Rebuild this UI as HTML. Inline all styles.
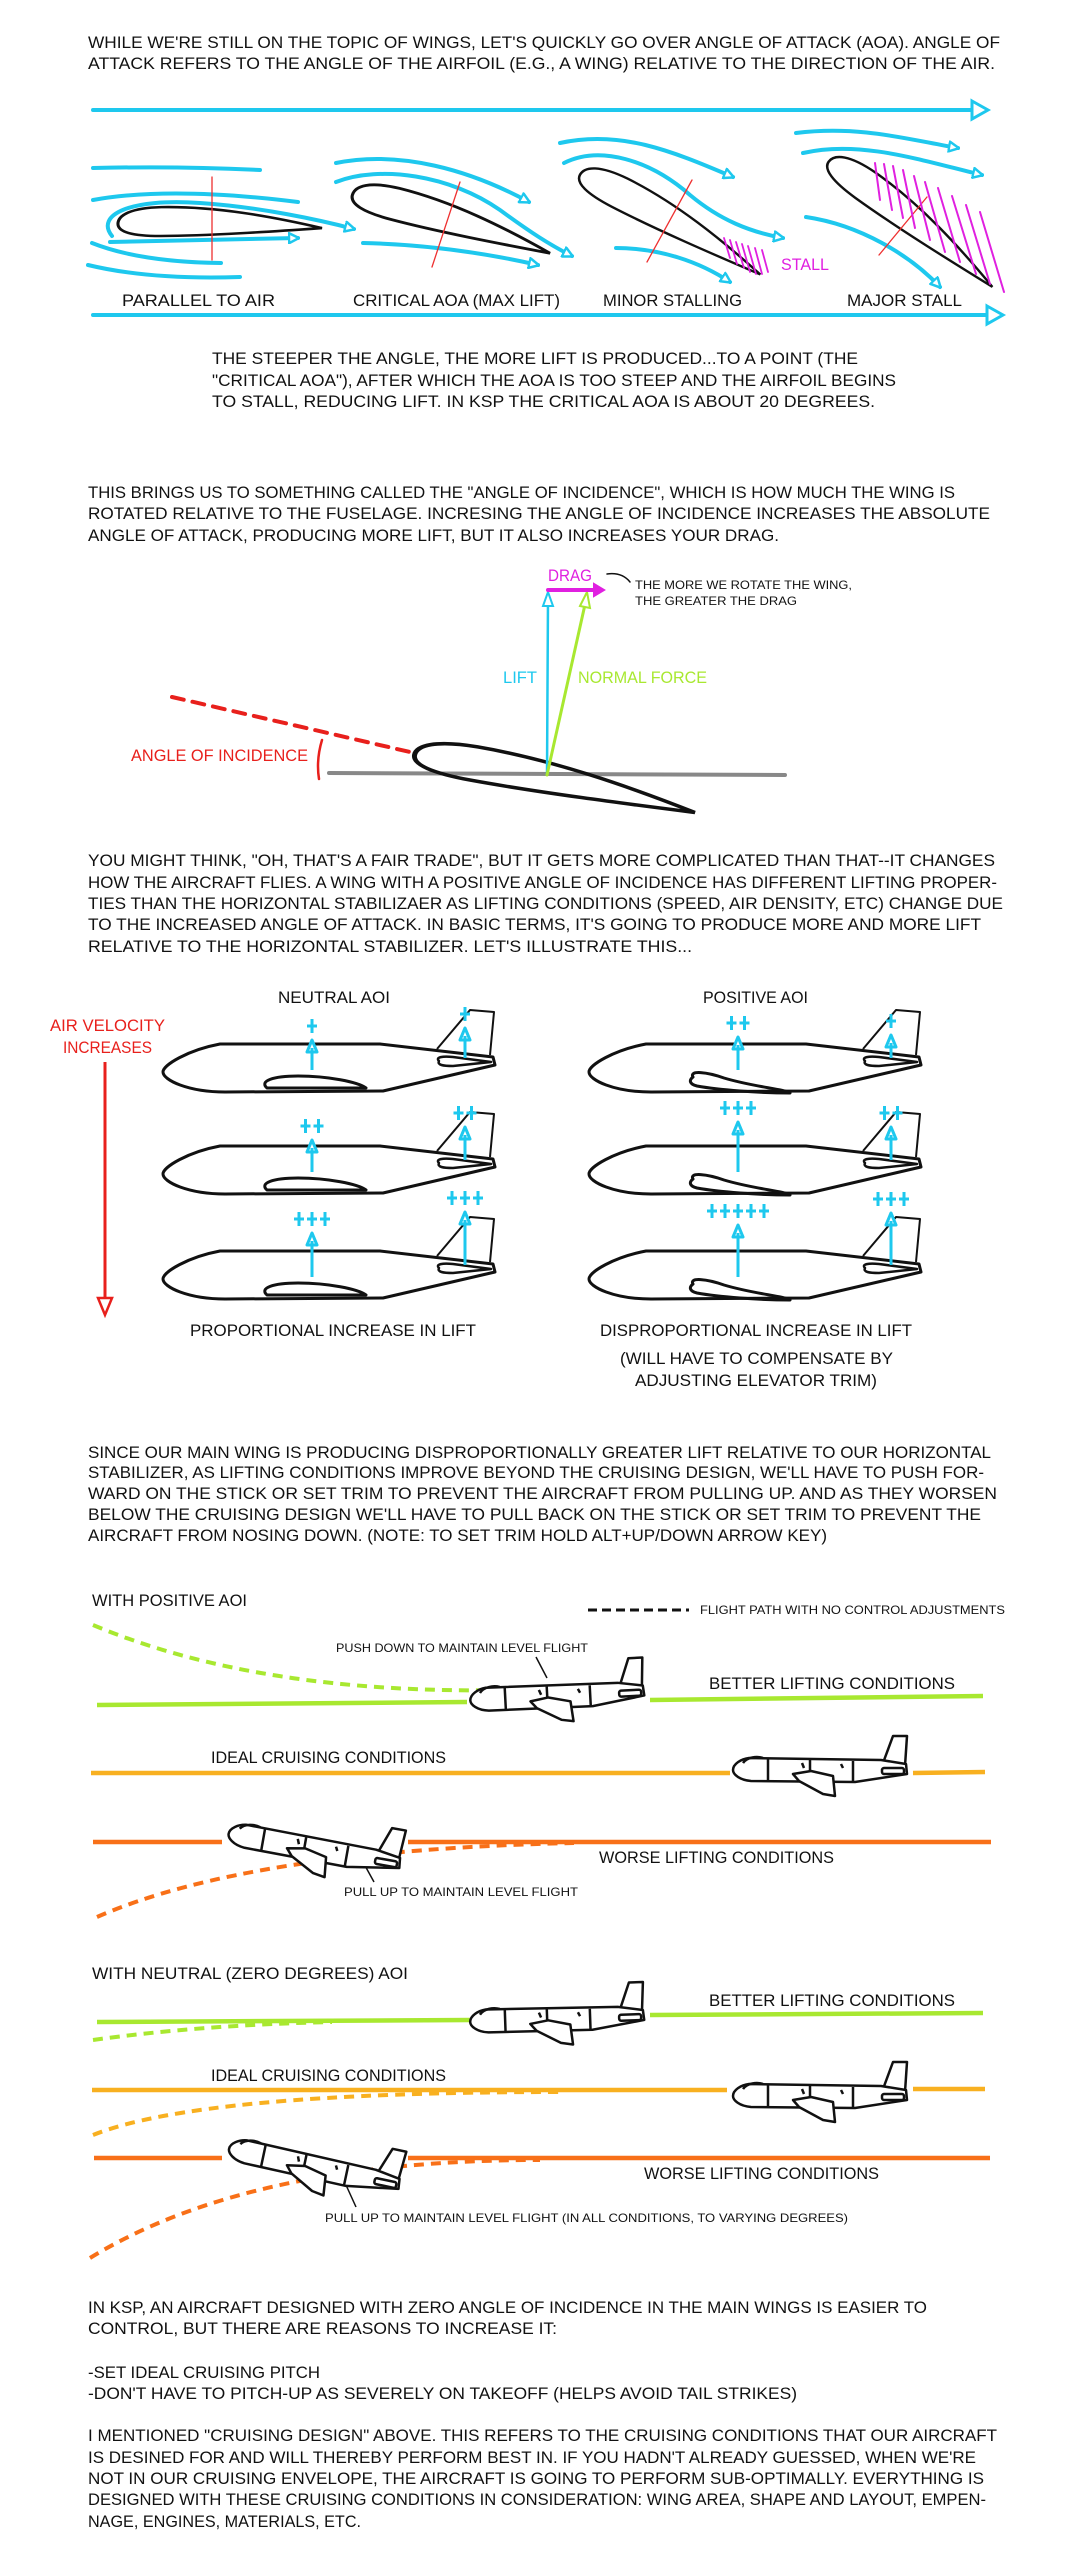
<!DOCTYPE html>
<html><head><meta charset="utf-8"><title>Angle of Attack and Angle of Incidence</title>
<style>
html,body{margin:0;padding:0;background:#fff;}
svg{display:block;}
text{font-family:"Liberation Sans Narrow","Liberation Sans",sans-serif;fill:#111;}
.t{font-size:17px;}
.s{font-size:12px;}
</style></head>
<body>
<svg id="page" width="1079" height="2554" viewBox="0 0 1079 2554" xmlns="http://www.w3.org/2000/svg">
<defs>
<marker id="ac" viewBox="0 0 12 12" refX="10" refY="6" markerWidth="12" markerHeight="12" markerUnits="userSpaceOnUse" orient="auto"><path d="M1,1 L11,6 L1,11 Z" fill="#fff" stroke="#1ec8ee" stroke-width="2.5"/></marker>
<path id="foil" d="M200,0 C150,-12 95,-22 42,-19 C12,-17 0,-8 0,2 C0,12 15,16 42,15 C90,13 150,6 200,0 Z"/>
</defs>
<rect width="1079" height="2554" fill="#fff"/>

<!-- Paragraph 1 -->
<g class="t">
<text x="88" y="48" textLength="912" lengthAdjust="spacingAndGlyphs">WHILE WE'RE STILL ON THE TOPIC OF WINGS, LET'S QUICKLY GO OVER ANGLE OF ATTACK (AOA). ANGLE OF</text>
<text x="88" y="69" textLength="907" lengthAdjust="spacingAndGlyphs">ATTACK REFERS TO THE ANGLE OF THE AIRFOIL (E.G., A WING) RELATIVE TO THE DIRECTION OF THE AIR.</text>
</g>

<!-- AoA diagram -->
<g fill="none" stroke-linecap="round">
<line x1="93" y1="110" x2="978" y2="110" stroke="#1ec8ee" stroke-width="4"/>
<path d="M972,101 L988,110 L972,119 Z" fill="#fff" stroke="#1ec8ee" stroke-width="3"/>
<line x1="93" y1="315" x2="993" y2="315" stroke="#1ec8ee" stroke-width="4"/>
<path d="M987,306 L1003,315 L987,324 Z" fill="#fff" stroke="#1ec8ee" stroke-width="3"/>

<!-- flow lines -->
<g stroke="#1ec8ee" stroke-width="4">
<path d="M93,168 Q180,166 260,170"/>
<path d="M93,200 Q170,186 298,202"/>
<path d="M112,236 C95,215 130,198 200,203 C260,207 320,220 354,229" marker-end="url(#ac)"/>
<path d="M110,242 Q200,240 298,238" marker-end="url(#ac)"/>
<path d="M92,243 Q140,262 221,263"/>
<path d="M88,265 Q150,280 240,277"/>
<path d="M336,163 C400,150 470,170 529,202" marker-end="url(#ac)"/>
<path d="M336,182 C380,165 450,175 500,210 C530,232 550,245 572,256" marker-end="url(#ac)"/>
<path d="M363,243 Q450,245 538,265" marker-end="url(#ac)"/>
<path d="M560,143 C620,130 670,150 733,177" marker-end="url(#ac)"/>
<path d="M564,163 C600,145 650,160 690,195 C720,220 750,232 783,238" marker-end="url(#ac)"/>
<path d="M616,248 C660,248 700,262 730,282" marker-end="url(#ac)"/>
<path d="M796,133 C860,125 910,140 958,148" marker-end="url(#ac)"/>
<path d="M803,153 C860,140 920,160 982,175" marker-end="url(#ac)"/>
<path d="M806,217 C860,225 910,255 940,287" marker-end="url(#ac)"/>
</g>

<!-- airfoils -->
<use href="#foil" transform="translate(118,222) rotate(1.7) scale(1.02,0.85)" stroke="#111" stroke-width="3"/>
<use href="#foil" transform="translate(353,193) rotate(17) scale(1.03,0.95)" stroke="#111" stroke-width="3"/>
<use href="#foil" transform="translate(581,173) rotate(29.5) scale(1.03,0.95)" stroke="#111" stroke-width="2.5"/>
<use href="#foil" transform="translate(830,160) rotate(38) scale(1.03,0.95)" stroke="#111" stroke-width="2.5"/>

<g stroke="#ee3030" stroke-width="1.3">
<line x1="212" y1="177" x2="212" y2="260"/>
<line x1="460" y1="182" x2="432" y2="267"/>
<line x1="692" y1="180" x2="647" y2="262"/>
<line x1="927" y1="197" x2="879" y2="255"/>
</g>
<g stroke="#e020e0" stroke-width="1.8">
<line x1="724" y1="238" x2="730" y2="258"/><line x1="730" y1="240" x2="737" y2="264"/>
<line x1="736" y1="242" x2="744" y2="268"/><line x1="742" y1="244" x2="750" y2="272"/>
<line x1="748" y1="246" x2="756" y2="274"/><line x1="755" y1="248" x2="762" y2="274"/>
<line x1="762" y1="250" x2="768" y2="272"/>
</g>
<g stroke="#e020e0" stroke-width="2">
<line x1="875" y1="163" x2="880" y2="200"/><line x1="884" y1="164" x2="892" y2="210"/>
<line x1="893" y1="166" x2="903" y2="218"/><line x1="903" y1="170" x2="915" y2="228"/>
<line x1="914" y1="176" x2="930" y2="240"/><line x1="925" y1="182" x2="945" y2="252"/>
<line x1="938" y1="188" x2="960" y2="262"/><line x1="952" y1="196" x2="976" y2="274"/>
<line x1="966" y1="205" x2="990" y2="284"/><line x1="980" y1="212" x2="1004" y2="292"/>
</g>
<text x="781" y="270" class="t" style="fill:#e020e0" textLength="48" lengthAdjust="spacingAndGlyphs">STALL</text>
</g>
<g class="t">
<text x="122" y="306" textLength="153" lengthAdjust="spacingAndGlyphs">PARALLEL TO AIR</text>
<text x="353" y="306" textLength="207" lengthAdjust="spacingAndGlyphs">CRITICAL AOA (MAX LIFT)</text>
<text x="603" y="306" textLength="139" lengthAdjust="spacingAndGlyphs">MINOR STALLING</text>
<text x="847" y="306" textLength="115" lengthAdjust="spacingAndGlyphs">MAJOR STALL</text>
</g>
<g class="t">
<text x="212" y="364" textLength="646" lengthAdjust="spacingAndGlyphs">THE STEEPER THE ANGLE, THE MORE LIFT IS PRODUCED...TO A POINT (THE</text>
<text x="212" y="386" textLength="684" lengthAdjust="spacingAndGlyphs">"CRITICAL AOA"), AFTER WHICH THE AOA IS TOO STEEP AND THE AIRFOIL BEGINS</text>
<text x="212" y="407" textLength="663" lengthAdjust="spacingAndGlyphs">TO STALL, REDUCING LIFT.  IN KSP THE CRITICAL AOA IS ABOUT 20 DEGREES.</text>
</g>

<!-- Paragraph 2 -->
<g class="t">
<text x="88" y="498" textLength="867" lengthAdjust="spacingAndGlyphs">THIS BRINGS US TO SOMETHING CALLED THE "ANGLE OF INCIDENCE", WHICH IS HOW MUCH THE WING IS</text>
<text x="88" y="519" textLength="902" lengthAdjust="spacingAndGlyphs">ROTATED RELATIVE TO THE FUSELAGE.  INCRESING THE ANGLE OF INCIDENCE INCREASES THE ABSOLUTE</text>
<text x="88" y="541" textLength="691" lengthAdjust="spacingAndGlyphs">ANGLE OF ATTACK, PRODUCING MORE LIFT, BUT IT ALSO INCREASES YOUR DRAG.</text>
</g>

<!-- Incidence diagram -->
<g fill="none" stroke-linecap="round">
<line x1="329" y1="773" x2="785" y2="775" stroke="#888" stroke-width="4"/>
<line x1="172" y1="697" x2="410" y2="752" stroke="#e8201c" stroke-width="4" stroke-dasharray="12 9"/>
<path d="M322,740 Q316,760 319,779" stroke="#e8201c" stroke-width="2.5"/>
<use href="#foil" transform="translate(415,753) rotate(12) scale(1.43,1.0)" stroke="#111" stroke-width="3.5"/>
<line x1="547" y1="775" x2="548" y2="598" stroke="#1ec8ee" stroke-width="2.5"/>
<path d="M543,606 L548,592 L553,606 Z" fill="#fff" stroke="#1ec8ee" stroke-width="2"/>
<line x1="547" y1="775" x2="586" y2="600" stroke="#a8e830" stroke-width="3"/>
<path d="M580,606 L587,592 L590,608 Z" fill="#fff" stroke="#a8e830" stroke-width="2"/>
<line x1="548" y1="590" x2="596" y2="590" stroke="#e020e0" stroke-width="4"/>
<path d="M594,584 L604,590 L594,596 Z" fill="#e020e0" stroke="#e020e0" stroke-width="2"/>
<path d="M607,574 Q622,572 630,582" stroke="#111" stroke-width="1.5"/>
</g>
<text x="548" y="581" class="t" style="fill:#e020e0" textLength="44" lengthAdjust="spacingAndGlyphs">DRAG</text>
<text x="503" y="683" class="t" style="fill:#1ec8ee" textLength="34" lengthAdjust="spacingAndGlyphs">LIFT</text>
<text x="578" y="683" class="t" style="fill:#a8e830" textLength="129" lengthAdjust="spacingAndGlyphs">NORMAL FORCE</text>
<text x="131" y="761" class="t" style="fill:#e8201c" textLength="177" lengthAdjust="spacingAndGlyphs">ANGLE OF INCIDENCE</text>
<g class="s">
<text x="635" y="589" textLength="217" lengthAdjust="spacingAndGlyphs">THE MORE WE ROTATE THE WING,</text>
<text x="635" y="605" textLength="162" lengthAdjust="spacingAndGlyphs">THE GREATER THE DRAG</text>
</g>

<!-- Paragraph 3 -->
<g class="t">
<text x="88" y="866" textLength="907" lengthAdjust="spacingAndGlyphs">YOU MIGHT THINK, "OH, THAT'S A FAIR TRADE", BUT IT GETS MORE COMPLICATED THAN THAT--IT CHANGES</text>
<text x="88" y="888" textLength="909" lengthAdjust="spacingAndGlyphs">HOW THE AIRCRAFT FLIES. A WING WITH A POSITIVE ANGLE OF INCIDENCE HAS DIFFERENT LIFTING PROPER-</text>
<text x="88" y="909" textLength="915" lengthAdjust="spacingAndGlyphs">TIES THAN THE HORIZONTAL STABILIZAER AS LIFTING CONDITIONS (SPEED, AIR DENSITY, ETC) CHANGE DUE</text>
<text x="88" y="930" textLength="893" lengthAdjust="spacingAndGlyphs">TO THE INCREASED ANGLE OF ATTACK.  IN BASIC TERMS, IT'S GOING TO PRODUCE MORE AND MORE LIFT</text>
<text x="88" y="952" textLength="604" lengthAdjust="spacingAndGlyphs">RELATIVE TO THE HORIZONTAL STABILIZER.  LET'S ILLUSTRATE THIS...</text>
</g>

<!-- AoI comparison -->
<text x="278" y="1003" class="t" textLength="112" lengthAdjust="spacingAndGlyphs">NEUTRAL AOI</text>
<text x="703" y="1003" class="t" textLength="105" lengthAdjust="spacingAndGlyphs">POSITIVE AOI</text>
<text x="50" y="1031" class="t" style="fill:#e8201c" textLength="115" lengthAdjust="spacingAndGlyphs">AIR VELOCITY</text>
<text x="63" y="1053" class="t" style="fill:#e8201c" textLength="89" lengthAdjust="spacingAndGlyphs">INCREASES</text>
<line x1="105" y1="1062" x2="105" y2="1300" stroke="#e8201c" stroke-width="3"/>
<path d="M98,1298 L112,1298 L105,1315 Z" fill="#fff" stroke="#e8201c" stroke-width="2.5"/>
<g id="aoiPlanes"></g>
<g class="t">
<text x="190" y="1336" textLength="286" lengthAdjust="spacingAndGlyphs">PROPORTIONAL INCREASE IN LIFT</text>
<text x="600" y="1336" textLength="312" lengthAdjust="spacingAndGlyphs">DISPROPORTIONAL INCREASE IN LIFT</text>
<text x="620" y="1364" textLength="273" lengthAdjust="spacingAndGlyphs">(WILL HAVE TO COMPENSATE BY</text>
<text x="635" y="1386" textLength="242" lengthAdjust="spacingAndGlyphs">ADJUSTING ELEVATOR TRIM)</text>
</g>

<!-- Paragraph 4 -->
<g class="t">
<text x="88" y="1458" textLength="903" lengthAdjust="spacingAndGlyphs">SINCE OUR MAIN WING IS PRODUCING DISPROPORTIONALLY GREATER LIFT RELATIVE TO OUR HORIZONTAL</text>
<text x="88" y="1478" textLength="896" lengthAdjust="spacingAndGlyphs">STABILIZER, AS LIFTING CONDITIONS IMPROVE BEYOND THE CRUISING DESIGN, WE'LL HAVE TO PUSH FOR-</text>
<text x="88" y="1499" textLength="909" lengthAdjust="spacingAndGlyphs">WARD ON THE STICK OR SET TRIM TO PREVENT THE AIRCRAFT FROM PULLING UP.  AND AS THEY WORSEN</text>
<text x="88" y="1520" textLength="893" lengthAdjust="spacingAndGlyphs">BELOW THE CRUISING DESIGN WE'LL HAVE TO PULL BACK ON THE STICK OR SET TRIM TO PREVENT THE</text>
<text x="88" y="1541" textLength="739" lengthAdjust="spacingAndGlyphs">AIRCRAFT FROM NOSING DOWN.  (NOTE: TO SET TRIM HOLD ALT+UP/DOWN ARROW KEY)</text>
</g>

<!-- Flight diagram 1 -->
<g fill="none">
<text x="92" y="1606" class="t" textLength="155" lengthAdjust="spacingAndGlyphs">WITH POSITIVE AOI</text>
<line x1="588" y1="1610" x2="689" y2="1610" stroke="#111" stroke-width="3" stroke-dasharray="9 5"/>
<text x="700" y="1614" class="s" textLength="305" lengthAdjust="spacingAndGlyphs">FLIGHT PATH WITH NO CONTROL ADJUSTMENTS</text>
<path d="M93,1625 Q260,1695 509,1690" stroke="#a8e830" stroke-width="4" stroke-dasharray="10 7"/>
<path d="M97,1705 L467,1702 M650,1700 L983,1696" stroke="#a8e830" stroke-width="4.5"/>
<path d="M91,1773 L730,1773 M913,1773 L985,1772" stroke="#f8b020" stroke-width="4.5"/>
<path d="M93,1842 L222,1842 M408,1842 L991,1842" stroke="#f87018" stroke-width="4.5"/>
<path d="M97,1917 Q250,1850 574,1843" stroke="#f87018" stroke-width="4" stroke-dasharray="10 7"/>
<line x1="536" y1="1657" x2="547" y2="1678" stroke="#111" stroke-width="1.5"/>
<line x1="363" y1="1862" x2="374" y2="1882" stroke="#111" stroke-width="1.5"/>
<text x="336" y="1652" class="s" textLength="252" lengthAdjust="spacingAndGlyphs">PUSH DOWN TO MAINTAIN LEVEL FLIGHT</text>
<text x="709" y="1689" class="t" textLength="246" lengthAdjust="spacingAndGlyphs">BETTER LIFTING CONDITIONS</text>
<text x="211" y="1763" class="t" textLength="235" lengthAdjust="spacingAndGlyphs">IDEAL CRUISING CONDITIONS</text>
<text x="599" y="1863" class="t" textLength="235" lengthAdjust="spacingAndGlyphs">WORSE LIFTING CONDITIONS</text>
<text x="344" y="1896" class="s" textLength="234" lengthAdjust="spacingAndGlyphs">PULL UP TO MAINTAIN LEVEL FLIGHT</text>
</g>

<!-- Flight diagram 2 -->
<g fill="none">
<text x="92" y="1979" class="t" textLength="316" lengthAdjust="spacingAndGlyphs">WITH NEUTRAL (ZERO DEGREES) AOI</text>
<path d="M97,2022 L470,2020 M650,2015 L983,2013" stroke="#a8e830" stroke-width="4.5"/>
<path d="M93,2040 Q200,2025 332,2022" stroke="#a8e830" stroke-width="4" stroke-dasharray="10 7"/>
<path d="M92,2090 L727,2090 M913,2089 L985,2089" stroke="#f8b020" stroke-width="4.5"/>
<path d="M93,2135 Q200,2092 560,2092" stroke="#f8b020" stroke-width="4" stroke-dasharray="10 7"/>
<path d="M94,2158 L222,2158 M408,2158 L990,2158" stroke="#f87018" stroke-width="4.5"/>
<path d="M90,2258 Q250,2160 540,2160" stroke="#f87018" stroke-width="4" stroke-dasharray="10 7"/>
<line x1="346" y1="2185" x2="356" y2="2207" stroke="#111" stroke-width="1.5"/>
<text x="709" y="2006" class="t" textLength="246" lengthAdjust="spacingAndGlyphs">BETTER LIFTING CONDITIONS</text>
<text x="211" y="2081" class="t" textLength="235" lengthAdjust="spacingAndGlyphs">IDEAL CRUISING CONDITIONS</text>
<text x="644" y="2179" class="t" textLength="235" lengthAdjust="spacingAndGlyphs">WORSE LIFTING CONDITIONS</text>
<text x="325" y="2222" class="s" textLength="523" lengthAdjust="spacingAndGlyphs">PULL UP TO MAINTAIN LEVEL FLIGHT (IN ALL CONDITIONS, TO VARYING DEGREES)</text>
</g>
<g id="smallPlanes"></g>

<!-- Final paragraphs -->
<g class="t">
<text x="88" y="2313" textLength="839" lengthAdjust="spacingAndGlyphs">IN KSP, AN AIRCRAFT DESIGNED WITH ZERO ANGLE OF INCIDENCE IN THE MAIN WINGS IS EASIER TO</text>
<text x="88" y="2334" textLength="469" lengthAdjust="spacingAndGlyphs">CONTROL, BUT THERE ARE REASONS TO INCREASE IT:</text>
<text x="88" y="2378" textLength="232" lengthAdjust="spacingAndGlyphs">-SET IDEAL CRUISING PITCH</text>
<text x="88" y="2399" textLength="709" lengthAdjust="spacingAndGlyphs">-DON'T HAVE TO PITCH-UP AS SEVERELY ON TAKEOFF (HELPS AVOID TAIL STRIKES)</text>
<text x="88" y="2441" textLength="909" lengthAdjust="spacingAndGlyphs">I MENTIONED "CRUISING DESIGN" ABOVE.  THIS REFERS TO THE CRUISING CONDITIONS THAT OUR AIRCRAFT</text>
<text x="88" y="2463" textLength="888" lengthAdjust="spacingAndGlyphs">IS DESINED FOR AND WILL THEREBY PERFORM BEST IN.  IF YOU HADN'T ALREADY GUESSED, WHEN WE'RE</text>
<text x="88" y="2484" textLength="896" lengthAdjust="spacingAndGlyphs">NOT IN OUR CRUISING ENVELOPE, THE AIRCRAFT IS GOING TO PERFORM SUB-OPTIMALLY.  EVERYTHING IS</text>
<text x="88" y="2505" textLength="898" lengthAdjust="spacingAndGlyphs">DESIGNED WITH THESE CRUISING CONDITIONS IN CONSIDERATION: WING AREA, SHAPE AND LAYOUT, EMPEN-</text>
<text x="88" y="2527" textLength="273" lengthAdjust="spacingAndGlyphs">NAGE, ENGINES, MATERIALS, ETC.</text>
</g>
</svg>
<script>
var NS = "http://www.w3.org/2000/svg";
// AoI comparison data
var rowTops = [1045, 1147, 1252];
var neutralMainPlus = [1, 2, 3];
var neutralTailPlus = [1, 2, 3];
var positiveMainPlus = [2, 3, 5];
var positiveTailPlus = [1, 2, 3];
var neutralMainTip = [-5, -7, -19];
var neutralTailTip = [-17, -20, -40];
var positiveMainTip = [-8, -25, -27];
var positiveTailTip = [-10, -20, -39];
// small plane placements
var smallPlaneX = [470, 733, 228, 470, 733, 228];
var smallPlaneY = [1662, 1736, 1815, 1985, 2062, 2133];
var smallPlaneAngle = [-3, 0, 10, -2, 0, 12];

function mk(tag, attrs, parent) {
  var e = document.createElementNS(NS, tag);
  for (var k in attrs) e.setAttribute(k, attrs[k]);
  parent.appendChild(e);
  return e;
}
function plusRow(g, cx, y, n) {
  var sp = 13, x0 = cx - (n - 1) * sp / 2;
  for (var i = 0; i < n; i++) {
    var p = mk('path', {d: 'M' + (x0 + i * sp - 5) + ',' + y + ' h10 M' + (x0 + i * sp) + ',' + (y - 7) + ' v14', stroke: '#1ec8ee', 'stroke-width': 3, fill: 'none'}, g);
    
    
  }
}
function liftArrow(g, x, yb, yt) {
  var l = mk('path', {d: 'M' + x + ',' + yb + ' L' + x + ',' + (yt + 8) + ' M' + (x - 5) + ',' + (yt + 12) + ' L' + x + ',' + yt + ' L' + (x + 5) + ',' + (yt + 12) + ' Z', stroke: '#1ec8ee', 'stroke-width': 3, fill: '#fff'}, g);
  
  
}
function bigPlane(ox, oy, positive, r) {
  var root = document.getElementById('aoiPlanes');
  var g = mk('g', {transform: 'translate(' + ox + ',' + oy + ')', fill: 'none', 'stroke-linejoin': 'round'}, root);
  
  
  var body = mk('path', {d: 'M57,-1 L217,-1 L330,12 L332,20 L220,46 L62,47 C25,47 0,35 0,27 C0,20 25,5 57,-1 Z', stroke: '#111', 'stroke-width': 3}, g);
  
  
  var fin = mk('path', {d: 'M274,4 L307,-35 L331,-33 L327,10', stroke: '#111', 'stroke-width': 2}, g);
  
  
  var st = mk('path', {d: 'M276,16 C272,12 280,11 290,12 L328,17 L290,21 C280,21 274,20 276,16 Z', stroke: '#111', 'stroke-width': 2.5}, g);
  
  
  var wd = positive
    ? 'M104,32 C100,25 118,27 135,33 C165,42 195,44 201,48 C170,48 130,45 108,41 C100,39 100,35 104,32 Z'
    : 'M104,43 C96,36 110,31 135,31 C165,31 195,37 203,43 Z';
  var w = mk('path', {d: wd, stroke: '#111', 'stroke-width': 3}, g);
  
  
  var mTip = positive ? positiveMainTip[r] : neutralMainTip[r];
  var tTip = positive ? positiveTailTip[r] : neutralTailTip[r];
  var mN = positive ? positiveMainPlus[r] : neutralMainPlus[r];
  var tN = positive ? positiveTailPlus[r] : neutralTailPlus[r];
  liftArrow(g, 149, 25, mTip);
  liftArrow(g, 302, 13, tTip);
  plusRow(g, 149, mTip - 14, mN);
  plusRow(g, 302, tTip - 14, tN);
}
for (var r = 0; r < rowTops.length; r++) {
  bigPlane(163, rowTops[r], false, r);
  bigPlane(589, rowTops[r], true, r);
}
function smallPlane(x, y, a) {
  var root = document.getElementById('smallPlanes');
  var g = mk('g', {transform: 'translate(' + x + ',' + y + ') rotate(' + a + ',87,30)', fill: '#fff', stroke: '#111', 'stroke-width': 2.5, 'stroke-linejoin': 'round'}, root);
  
  
  mk('path', {d: 'M150,27 L160,0 L174,0 L172,30 Z'}, g);
  mk('path', {d: 'M16,22 L148,24 L173,28 L174,38 L122,46 L18,45 C6,44 0,38 0,34 C0,28 8,23 16,22 Z'}, g);
  mk('path', {d: 'M10,27 C14,21 24,20 30,22', fill: 'none'}, g);
  mk('path', {d: 'M35,23 L35,45 M77,24 L77,46 M120,25 L120,46', fill: 'none'}, g);
  mk('rect', {x: 149, y: 32, width: 22, height: 6, rx: 2}, g);
  mk('path', {d: 'M69,27 l2,5 M108,28 l2,4', fill: 'none'}, g);
  mk('path', {d: 'M60,38 L78,35 L100,40 L102,60 L90,58 L66,45 Z'}, g);
}
for (var i = 0; i < smallPlaneX.length; i++) smallPlane(smallPlaneX[i], smallPlaneY[i], smallPlaneAngle[i]);
</script>
</body></html>
